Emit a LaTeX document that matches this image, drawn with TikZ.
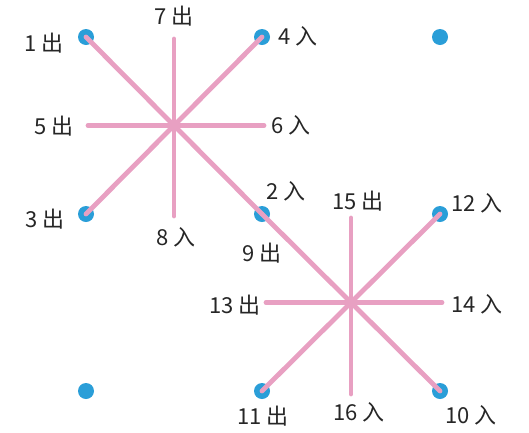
\documentclass[tikz,border=0pt]{standalone}
\usepackage{fontspec}
\setmainfont{Noto Sans CJK SC}
\definecolor{rosa}{RGB}{232,160,194}
\definecolor{punkt}{RGB}{42,158,216}
\tikzset{
  dot/.style={circle,fill=punkt,minimum size=16pt,inner sep=0pt},
  ray/.style={draw=rosa,line width=4.8pt,line cap=round},
  lbl/.style={font=\fontsize{22}{25}\selectfont,text=black!85,inner sep=0pt}
}
\begin{document}
\begin{tikzpicture}[x=1pt,y=-1pt]
    \useasboundingbox (0,0) rectangle (529,432);
    % dots
    \node[dot] (d1) at (86,37) {};
    \node[dot] (d2) at (262,37) {};
    \node[dot] (d3) at (440,37) {};
    \node[dot] (d4) at (86,214) {};
    \node[dot] (d5) at (262,214) {};
    \node[dot] (d6) at (440,214) {};
    \node[dot] (d7) at (86,391) {};
    \node[dot] (d8) at (262,391) {};
    \node[dot] (d9) at (440,391) {};
    % star centres and free ends
    \coordinate (m1) at (174,125.5);
    \coordinate (m2) at (351,302.5);
    \coordinate (t1) at (174,39);
    \coordinate (b1) at (174,216);
    \coordinate (l1) at (88,125.5);
    \coordinate (r1) at (264,125.5);
    \coordinate (t2) at (351,218);
    \coordinate (b2) at (351,394);
    \coordinate (l2) at (266,302.5);
    \coordinate (r2) at (442,302.5);
    % first star
    \draw[ray] (d1.center) -- (m1) -- (d5.center);
    \draw[ray] (d2.center) -- (m1) -- (d4.center);
    \draw[ray] (t1) -- (b1);
    \draw[ray] (l1) -- (r1);
    % second star
    \draw[ray] (d5.center) -- (m2) -- (d9.center);
    \draw[ray] (d6.center) -- (m2) -- (d8.center);
    \draw[ray] (t2) -- (b2);
    \draw[ray] (l2) -- (r2);
    % labels
    \node[lbl] (n1) at (44,43) {1 出};
    \node[lbl] (n7) at (174,16) {7 出};
    \node[lbl] (n4) at (298,36) {4 入};
    \node[lbl] (n5) at (54,126) {5 出};
    \node[lbl] (n6) at (291,125) {6 入};
    \node[lbl] (n3) at (45,219) {3 出};
    \node[lbl] (n8) at (176,237) {8 入};
    \node[lbl] (n2) at (286,191) {2 入};
    \node[lbl] (n15) at (358,201) {15 出};
    \node[lbl] (n12) at (477,203) {12 入};
    \node[lbl] (n9) at (262,253) {9 出};
    \node[lbl] (n13) at (235,305) {13 出};
    \node[lbl] (n14) at (477,304) {14 入};
    \node[lbl] (n11) at (263,416) {11 出};
    \node[lbl] (n16) at (359,412) {16 入};
    \node[lbl] (n10) at (471,415) {10 入};
\end{tikzpicture}
\end{document}
